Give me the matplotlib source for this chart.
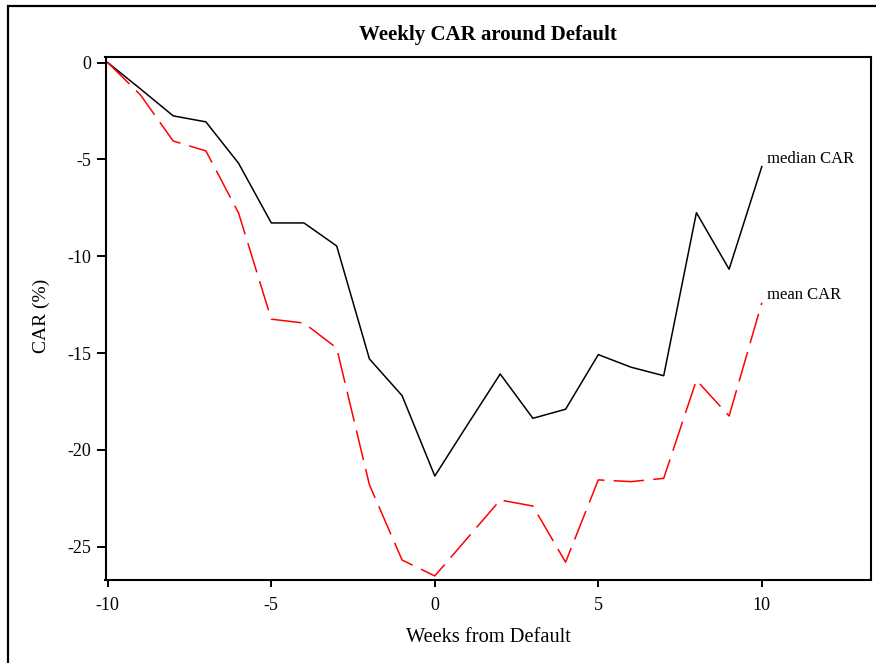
import matplotlib
matplotlib.use("Agg")
import matplotlib.pyplot as plt
from matplotlib.patches import Rectangle

weeks = list(range(-10, 11))
median_car = [0.0, -1.36, -2.75, -3.06, -5.2, -8.28, -8.28, -9.47, -15.3, -17.2,
              -21.35, -18.7, -16.08, -18.37, -17.9, -15.08, -15.73, -16.17,
              -7.75, -10.67, -5.37]
mean_car = [0.0, -1.67, -4.05, -4.56, -7.77, -13.25, -13.45, -14.74, -21.8, -25.69,
            -26.51, -24.55, -22.59, -22.9, -25.8, -21.55, -21.64, -21.47,
            -16.4, -18.25, -12.4]
x_ticks = [-10, -5, 0, 5, 10]
y_ticks = [0, -5, -10, -15, -20, -25]

plt.rcParams['font.family'] = ['Liberation Serif', 'DejaVu Serif']

W, H = 876, 663
fig = plt.figure(figsize=(W / 100, H / 100), dpi=100)

# outer frame
fig.patches.append(Rectangle((8 / W, -0.1), 1.2, 1 - 6 / H + 0.1,
                             transform=fig.transFigure, fill=False,
                             edgecolor='black', linewidth=1.6))

left, right, top, bottom = 105.5, 870.7, 57, 580
ax = fig.add_axes([left / W, 1 - bottom / H, (right - left) / W, (bottom - top) / H])

ax.plot(weeks, median_car, color='black', linewidth=1.1)
mean_line, = ax.plot(weeks, mean_car, color='red', linewidth=1.1)
mean_line.set_dashes([20, 6])

ax.text(10.15, median_car[-1], 'median CAR', fontsize=12, va='bottom', ha='left')
ax.text(10.15, mean_car[-1], 'mean CAR', fontsize=12, va='bottom', ha='left')

ax.set_xlim(-10.07, 13.33)
ax.set_ylim(-26.72, 0.29)
ax.set_xticks(x_ticks)
ax.set_yticks(y_ticks)
ax.set_xticklabels([str(v) for v in x_ticks])
ax.set_yticklabels([str(v) for v in y_ticks])
ax.tick_params(direction='out', width=1.4, labelsize=13)
ax.tick_params(axis='x', length=5, pad=7)
ax.tick_params(axis='y', length=6.5, pad=4)
for s in ax.spines.values():
    s.set_linewidth(1.5)

fig.text((left + right) / 2 / W, 1 - 35 / H, 'Weekly CAR around Default',
         fontsize=15, fontweight='bold', ha='center', va='center')
fig.text((left + right) / 2 / W, 1 - 637 / H, 'Weeks from Default',
         fontsize=14.7, ha='center', va='center')
fig.text(41 / W, 1 - 316 / H, 'CAR (%)', fontsize=14, rotation=90,
         ha='center', va='center')

fig.savefig('out.png', dpi=100)
